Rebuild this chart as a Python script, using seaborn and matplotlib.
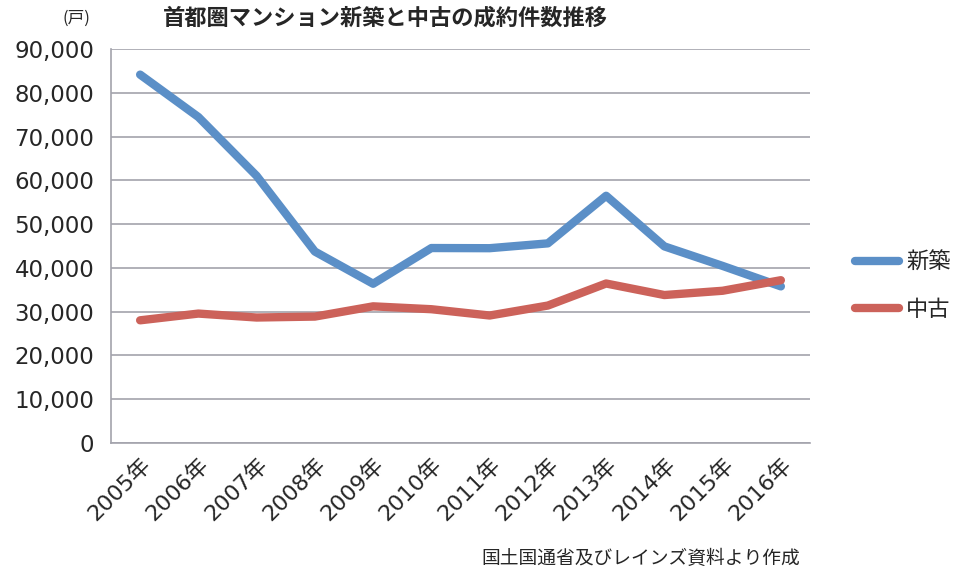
import pandas as pd
import matplotlib.pyplot as plt
import seaborn as sns
from matplotlib.ticker import FuncFormatter, FixedLocator

years = ['2005年', '2006年', '2007年', '2008年', '2009年', '2010年',
         '2011年', '2012年', '2013年', '2014年', '2015年', '2016年']
shinchiku = [84148, 74463, 61021, 43733, 36376, 44535,
             44499, 45602, 56478, 44913, 40449, 35772]
chuko = [28025, 29564, 28662, 28876, 31218, 30560,
         29122, 31397, 36432, 33798, 34776, 37189]
series_names = ['新築', '中古']
colors = ['#5B8FC7', '#CC625A']

df = pd.DataFrame({'年': years * 2,
                   '件数': shinchiku + chuko,
                   '種別': [series_names[0]] * len(years) + [series_names[1]] * len(years)})

sns.set_style('white')
plt.rcParams['font.family'] = ['Noto Sans CJK JP', 'DejaVu Sans']
tick_font = ['DejaVu Sans', 'Noto Sans CJK JP']

fig = plt.figure(figsize=(9.71, 5.75), dpi=100)
ax = fig.add_axes([111 / 971, 132 / 575, 699 / 971, 394 / 575])

sns.lineplot(data=df, x='年', y='件数', hue='種別', palette=colors,
             linewidth=6, solid_capstyle='round', ax=ax, legend=False)

ax.set_xlim(-0.5, len(years) - 0.5)
ax.set_ylim(0, 90000)
ax.set_yticks(range(0, 90001, 10000))
ax.yaxis.set_major_formatter(FuncFormatter(lambda v, p: f'{int(v):,}'))
ax.grid(axis='y', color='#A3A3AC', linewidth=1.2)
ax.set_axisbelow(True)

for s in ['top', 'right']:
    ax.spines[s].set_visible(False)
for s in ['left', 'bottom']:
    ax.spines[s].set_color('#A3A3AC')
    ax.spines[s].set_linewidth(1.2)

ax.xaxis.set_minor_locator(FixedLocator([i - 0.5 for i in range(len(years) + 1)]))
ax.tick_params(axis='x', which='major', length=0, pad=8)
ax.tick_params(axis='x', which='minor', length=6, color='#A3A3AC', width=1.2)
ax.tick_params(axis='y', length=6, color='#A3A3AC', width=1.2, pad=6)
for lab in ax.get_xticklabels():
    lab.set_family(tick_font)
    lab.set_fontsize(16)
    lab.set_rotation(45)
    lab.set_ha('right')
    lab.set_rotation_mode('anchor')
for lab in ax.get_yticklabels():
    lab.set_family(tick_font)
    lab.set_fontsize(16.5)
ax.set_xlabel('')
ax.set_ylabel('')

handles = [plt.Line2D([], [], color=c, linewidth=6, solid_capstyle='round') for c in colors]
fig.legend(handles, series_names, loc='center left', bbox_to_anchor=(835 / 971, 0.503),
           frameon=False, fontsize=16, handlelength=2.0, handletextpad=0.3,
           labelspacing=1.1)

fig.text(385 / 971, 1 - 18 / 575, '首都圏マンション新築と中古の成約件数推移',
         ha='center', va='center', fontsize=16, fontweight='bold')
fig.text(76 / 971, 1 - 18 / 575, '(戸)', ha='center', va='center', fontsize=12)
fig.text(800 / 971, 1 - 558 / 575, '国土国通省及びレインズ資料より作成',
         ha='right', va='center', fontsize=13.5)

plt.savefig('out.png', dpi=100)
